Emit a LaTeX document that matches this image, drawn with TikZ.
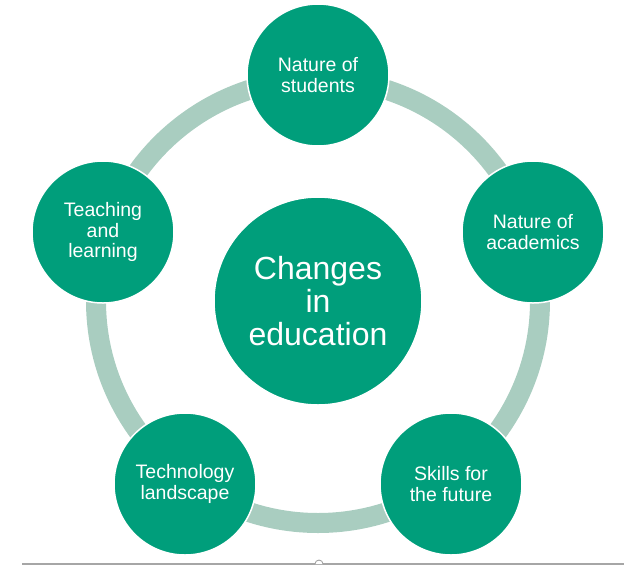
\documentclass[tikz,border=0pt]{standalone}
\usepackage{fontspec}
\setmainfont{Liberation Sans}
\definecolor{teal}{RGB}{0,158,123}
\definecolor{palegreen}{RGB}{169,205,192}
\tikzset{
  topic/.style={circle, fill=teal, draw=white, line width=1.5pt, minimum size=142pt, inner sep=0pt,
    align=center, text=white, font=\fontsize{19.5}{20.5}\selectfont},
  hub/.style={topic, minimum size=208pt, font=\fontsize{32}{33}\selectfont},
  ring/.style={line width=20pt, color=palegreen}
}

\begin{document}
\begin{tikzpicture}[x=1pt, y=-1pt]
			%%%%% START %%%%%
			\useasboundingbox (0, 0) rectangle (638, 566);
			
			\coordinate (mid) at (318, 301);
			\draw[ring] (mid) circle (222pt);
			
			\node[hub] (changes) at (mid) {Changes\\in\\education};
			
			\node[topic] (students) at (318, 75) {Nature of\\students};
			\node[topic] (academics) at (533, 232) {Nature of\\academics};
			\node[topic] (skills) at (451, 484) {Skills for\\the future};
			\node[topic] (technology) at (185, 484) {Technology\\landscape};
			\node[topic] (teaching) at (103, 232) {Teaching\\and\\learning};
			
			\draw[line width=1.2pt, color=black!35] (22, 564) -- (624, 564);
			\draw[line width=0.8pt, color=black!40, fill=white] (315, 564) arc (180:0:4pt);
			%%%%% END %%%%%
\end{tikzpicture}
\end{document}
